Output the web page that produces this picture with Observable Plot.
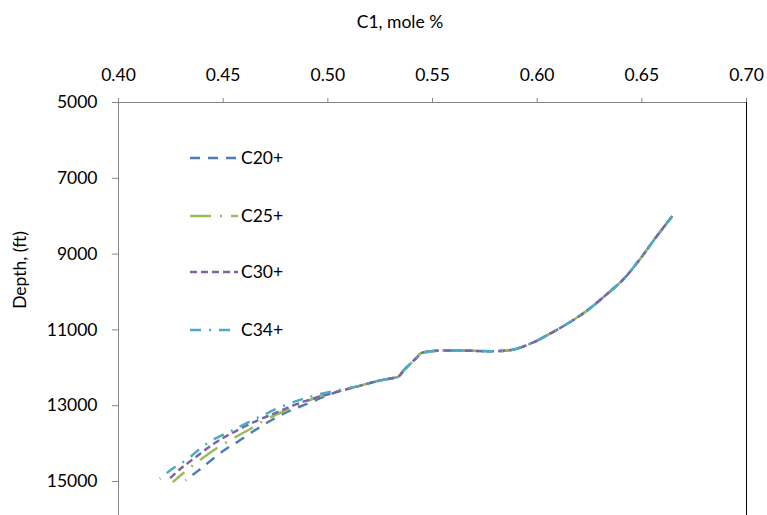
<!DOCTYPE html>
<html>
<head>
<meta charset="utf-8">
<script src="https://cdn.jsdelivr.net/npm/d3@7"></script>
<script src="https://cdn.jsdelivr.net/npm/@observablehq/plot@0.6"></script>
<style>
  html, body { margin: 0; padding: 0; background: #fff; }
  #chart { width: 767px; height: 515px; overflow: hidden; }
</style>
</head>
<body>
<div id="chart"></div>
<script>
// ---- data ----
const seriesNames = ["C20+", "C25+", "C30+", "C34+"];
const seriesColors = ["#4A7EBB", "#9BBB59", "#8064A2", "#4BACC6"];
const seriesDash = ["10,8", "21,9,2,9", "7,4", "11,8,2,8"];

const xTicks = [0.40, 0.45, 0.50, 0.55, 0.60, 0.65, 0.70];
const yTicks = [5000, 7000, 9000, 11000, 13000, 15000];

// shared upper section (all four profiles coincide)
const depthUpper = [8000, 8509, 9169, 9652, 10047, 10488, 10839, 11235, 11325, 11517, 11560, 11545, 11545, 11560, 11620, 11720, 11890, 12070, 12230, 12280, 12360, 12470];
const c1Upper    = [0.6645, 0.6574, 0.6486, 0.6414, 0.6335, 0.6239, 0.6144, 0.6016, 0.5984, 0.5889, 0.5793, 0.5634, 0.5538, 0.5498, 0.5443, 0.5427, 0.5395, 0.5362, 0.5338, 0.5299, 0.5228, 0.5156];

// lower sections per profile
const depthC20 = [12551, 12728, 12947, 13142, 13370, 13607, 13960, 14182, 14665, 14974];
const c1C20    = [0.5093, 0.4997, 0.4902, 0.4814, 0.4734, 0.4663, 0.4567, 0.4503, 0.4392, 0.4320];
const depthC25 = [12686, 12881, 13108, 13370, 13609, 13875, 14200, 14623, 15016];
const c1C25    = [0.4997, 0.4901, 0.4806, 0.4702, 0.4631, 0.4543, 0.4448, 0.4344, 0.4259];
const depthC30 = [12757, 12950, 13172, 13391, 13742, 14005, 14359, 14665, 14947];
const c1C30    = [0.4965, 0.4854, 0.4758, 0.4663, 0.4535, 0.4455, 0.4368, 0.4296, 0.4240];
const depthC34 = [12704, 12950, 13259, 13567, 13699, 13875, 14095, 14420, 14639, 14927];
const c1C34    = [0.4955, 0.4812, 0.4687, 0.4573, 0.4526, 0.4459, 0.4398, 0.4328, 0.4264, 0.4197];

const lowerDepths = [depthC20, depthC25, depthC30, depthC34];
const lowerC1 = [c1C20, c1C25, c1C30, c1C34];

const profiles = seriesNames.map((name, i) => {
  const depth = depthUpper.concat(lowerDepths[i]);
  const c1 = c1Upper.concat(lowerC1[i]);
  return depth.map((d, j) => ({series: name, depth: d, c1: c1[j]}));
});

const W = 767, H = 515;
const fontFamily = "Lato, 'Open Sans', sans-serif";
const FS = 17.5;

const chart = Plot.plot({
  width: W,
  height: H,
  marginTop: 102,
  marginLeft: 118,
  marginRight: 21,
  marginBottom: 0,
  style: {fontFamily, fontSize: FS + "px", color: "#000", background: "#fff"},
  x: {domain: [0.40, 0.70], label: null},
  y: {domain: [5000, 15897], reverse: true, label: null},
  marks: [
    Plot.axisX({anchor: "top", ticks: xTicks, tickFormat: d3.format(".2f"), tickSize: 5, tickPadding: 17, stroke: "#868686", label: null, fontSize: FS}),
    Plot.axisY({anchor: "left", ticks: yTicks, tickFormat: d3.format("d"), tickSize: 6, tickPadding: 15, stroke: "#868686", label: null, fontSize: FS}),
    Plot.ruleY([5000], {stroke: "#868686", strokeWidth: 1}),
    Plot.ruleX([0.40], {stroke: "#868686", strokeWidth: 1}),
    Plot.ruleX([0.70], {stroke: "#000", strokeWidth: 1}),
    ...profiles.map((data, i) => Plot.line(data, {
      x: "c1", y: "depth",
      stroke: seriesColors[i],
      strokeWidth: 2.5,
      strokeDasharray: seriesDash[i],
      strokeLinecap: "butt",
      curve: "catmull-rom"
    }))
  ]
});

const svg = d3.select(chart);
// axis titles
svg.append("text")
  .attr("x", 400).attr("y", 28)
  .attr("text-anchor", "middle")
  .attr("font-family", fontFamily).attr("font-size", FS).attr("fill", "#000")
  .text("C1, mole %");
svg.append("text")
  .attr("transform", "translate(26,270) rotate(-90)")
  .attr("text-anchor", "middle")
  .attr("font-family", fontFamily).attr("font-size", FS).attr("fill", "#000")
  .text("Depth, (ft)");

// legend inside the plot area
const legendY = [158, 216, 272, 330];
const lg = svg.append("g").attr("text-anchor", "start");
seriesNames.forEach((name, i) => {
  lg.append("line")
    .attr("x1", 190).attr("x2", 238)
    .attr("y1", legendY[i]).attr("y2", legendY[i])
    .attr("stroke", seriesColors[i])
    .attr("stroke-width", 2.5)
    .attr("stroke-dasharray", seriesDash[i]);
  lg.append("text")
    .attr("x", 241).attr("y", legendY[i] + 6)
    .attr("text-anchor", "start")
    .attr("font-family", fontFamily).attr("font-size", FS).attr("fill", "#000")
    .text(name);
});

document.getElementById("chart").appendChild(chart);
</script>
</body>
</html>
